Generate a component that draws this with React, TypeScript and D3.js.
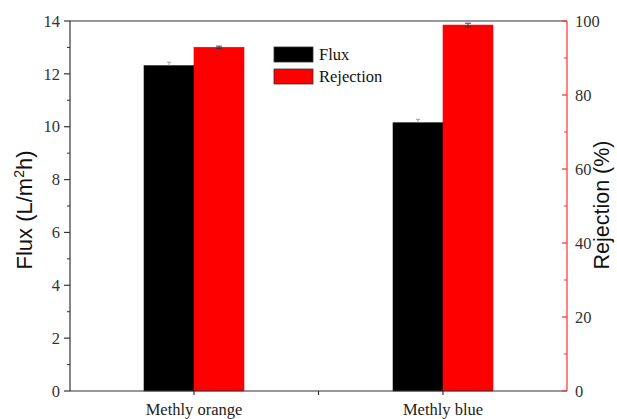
import React from "react";
import * as d3 from "d3";

const categories = ["Methly orange", "Methly blue"];
const fluxValues = [12.31, 10.15];
const fluxErrors = [0.13, 0.13];
const rejectionValues = [92.9, 98.9];
const rejectionErrors = [0.3, 0.5];
const fluxTicks = [0, 2, 4, 6, 8, 10, 12, 14];
const rejectionTicks = [0, 20, 40, 60, 80, 100];
const seriesNames = ["Flux", "Rejection"];
const seriesColors = ["#000000", "#ff0000"];

const W = 617;
const H = 419;
const m = { left: 70, right: 567, top: 21, bottom: 391 };

export default function App() {
  const yFlux = d3.scaleLinear().domain([0, 14]).range([m.bottom, m.top]);
  const yRej = d3.scaleLinear().domain([0, 100]).range([m.bottom, m.top]);
  // category centres, with a tick halfway between them
  const xc = d3.scaleLinear().domain([0, 1]).range([194, 443]);
  const barW = 50;
  const serif = "Liberation Serif, Times New Roman, serif";
  const sans = "Liberation Sans, Arial, sans-serif";
  const minorFlux = d3.range(1, 14, 2);
  const minorRej = d3.range(10, 100, 20);
  const fs = 16.5;

  return (
    <svg width={W} height={H} style={{ position: "absolute", left: 0, top: 0 }}>
      <rect width={W} height={H} fill="#fff" />
      {/* bars */}
      {categories.map((c, i) => {
        const cx = xc(i);
        const fTop = yFlux(fluxValues[i]);
        const rTop = yRej(rejectionValues[i]);
        const fHi = yFlux(fluxValues[i] + fluxErrors[i]);
        const rHi = yRej(rejectionValues[i] + rejectionErrors[i]);
        const rLo = yRej(rejectionValues[i] - rejectionErrors[i]);
        return (
          <g key={c}>
            <rect x={cx - barW} y={fTop} width={barW} height={m.bottom - fTop} fill={seriesColors[0]} stroke="#111" strokeWidth={0.6} />
            <rect x={cx} y={rTop} width={barW} height={m.bottom - rTop} fill={seriesColors[1]} stroke="#e00" strokeWidth={0.6} />
            <g stroke="#888" strokeWidth={0.8}>
              <line x1={cx - barW / 2} x2={cx - barW / 2} y1={fHi} y2={fTop} />
              <line x1={cx - barW / 2 - 2} x2={cx - barW / 2 + 2} y1={fHi} y2={fHi} />
            </g>
            <g stroke="#333" strokeWidth={0.9}>
              <line x1={cx + barW / 2} x2={cx + barW / 2} y1={rHi} y2={rLo} />
              <line x1={cx + barW / 2 - 3} x2={cx + barW / 2 + 3} y1={rHi} y2={rHi} />
              <line x1={cx + barW / 2 - 3} x2={cx + barW / 2 + 3} y1={rLo} y2={rLo} />
            </g>
          </g>
        );
      })}
      {/* frame */}
      <line x1={m.left} x2={m.right} y1={m.top} y2={m.top} stroke="#333" strokeWidth={1.2} />
      <line x1={m.left} x2={m.right} y1={m.bottom} y2={m.bottom} stroke="#333" strokeWidth={1.2} />
      <line x1={m.left} x2={m.left} y1={m.top} y2={m.bottom} stroke="#333" strokeWidth={1.2} />
      <line x1={m.right} x2={m.right} y1={m.top} y2={m.bottom} stroke="#ff3030" strokeWidth={1.2} />
      {/* left axis */}
      {fluxTicks.map((t) => (
        <g key={t}>
          <line x1={m.left - 6} x2={m.left} y1={yFlux(t)} y2={yFlux(t)} stroke="#333" strokeWidth={1.2} />
          <text x={m.left - 10} y={yFlux(t)} dy="0.35em" textAnchor="end" fontFamily={serif} fontSize={fs} fill="#333">{t}</text>
        </g>
      ))}
      {minorFlux.map((t) => (
        <line key={t} x1={m.left - 3} x2={m.left} y1={yFlux(t)} y2={yFlux(t)} stroke="#333" strokeWidth={1} />
      ))}
      {/* right axis */}
      {rejectionTicks.map((t) => (
        <g key={t}>
          <line x1={m.right - 5} x2={m.right} y1={yRej(t)} y2={yRej(t)} stroke="#ff3030" strokeWidth={1.2} />
          <text x={m.right + 8} y={yRej(t)} dy="0.35em" textAnchor="start" fontFamily={serif} fontSize={fs} fill="#333">{t}</text>
        </g>
      ))}
      {minorRej.map((t) => (
        <line key={t} x1={m.right - 3} x2={m.right} y1={yRej(t)} y2={yRej(t)} stroke="#ff3030" strokeWidth={1} />
      ))}
      {/* bottom axis */}
      {[0, 0.5, 1].map((t) => (
        <line key={t} x1={xc(t)} x2={xc(t)} y1={m.bottom} y2={m.bottom + 4} stroke="#333" strokeWidth={1.2} />
      ))}
      {categories.map((c, i) => (
        <text key={c} x={xc(i)} y={415} textAnchor="middle" fontFamily={serif} fontSize={fs} fill="#222">{c}</text>
      ))}
      {/* axis titles */}
      <text transform={`translate(32,210) rotate(-90)`} textAnchor="middle" fontFamily={sans} fontSize={22} fill="#111">
        Flux (L/m<tspan fontSize={14} dy={-8}>2</tspan><tspan dy={8}>h)</tspan>
      </text>
      <text transform={`translate(609,205) rotate(-90)`} textAnchor="middle" fontFamily={sans} fontSize={21.5} fill="#111">
        Rejection (%)
      </text>
      {/* legend */}
      {seriesNames.map((s, i) => (
        <g key={s} transform={`translate(274,${47 + i * 22})`}>
          <rect width={39} height={15} fill={seriesColors[i]} stroke="#333" strokeWidth={0.8} />
          <text x={45} y={13} fontFamily={serif} fontSize={fs} fill="#111">{s}</text>
        </g>
      ))}
    </svg>
  );
}
